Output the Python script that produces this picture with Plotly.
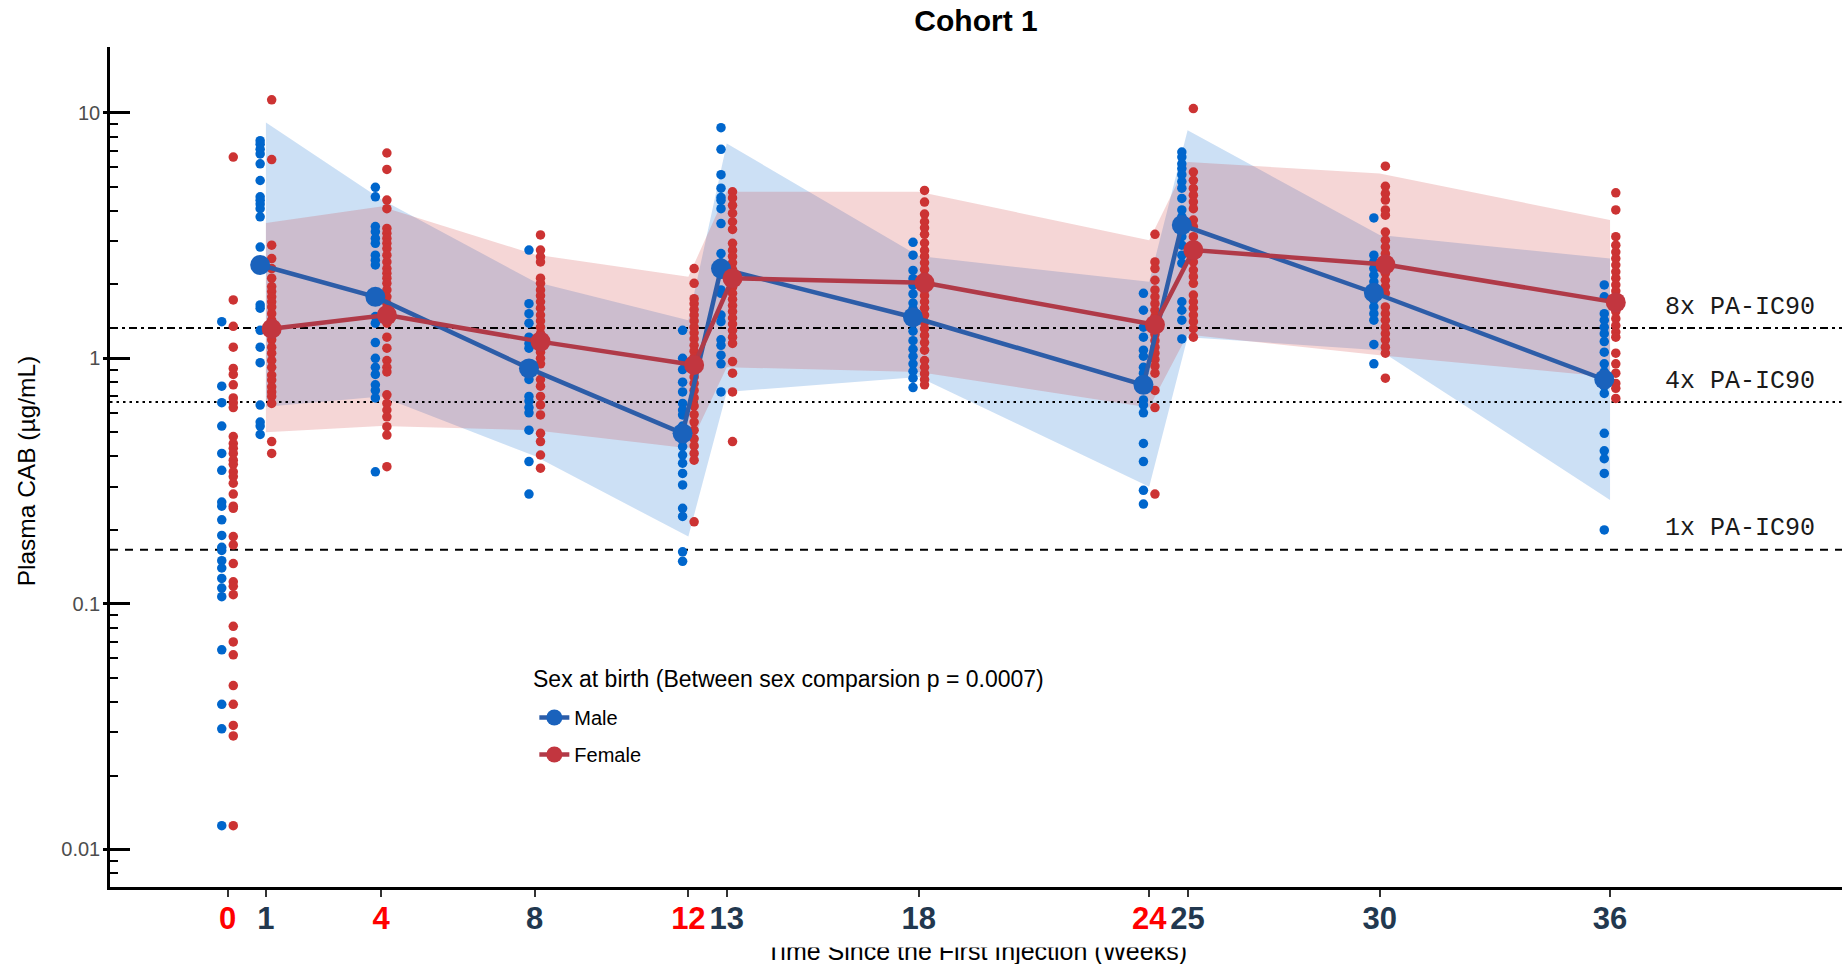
import numpy as np
import plotly.graph_objects as go

# ---------------------------------------------------------------- data
PA_IC90 = 0.166                      # µg/mL
ref_multiples = [8, 4, 1]
ref_labels = ["8x PA-IC90", "4x PA-IC90", "1x PA-IC90"]

tick_weeks = [0, 1, 4, 8, 12, 13, 18, 24, 25, 30, 36]
injection_weeks = [0, 4, 12, 24]

# individual concentrations by visit
male_wk0 = [1.41, 0.77, 0.66, 0.53, 0.41, 0.35, 0.26, 0.25, 0.22, 0.19, 0.17, 0.165, 0.15,
            0.14, 0.127, 0.116, 0.107, 0.065, 0.039, 0.031, 0.0125]
female_wk0 = [6.6, 1.73, 1.35, 1.11, 0.91, 0.86, 0.78, 0.69, 0.66, 0.63, 0.48, 0.45, 0.43,
              0.41, 0.385, 0.37, 0.345, 0.33, 0.31, 0.28, 0.25, 0.245, 0.188, 0.174, 0.146,
              0.123, 0.118, 0.109, 0.081, 0.070, 0.062, 0.0465, 0.039, 0.032, 0.029, 0.0125]
male_wk1 = [7.7, 7.45, 7.1, 6.8, 6.2, 5.3, 4.55, 4.4, 4.25, 4.07, 3.77, 2.84, 2.45, 2.35,
            1.65, 1.6, 1.30, 1.11, 0.96, 0.645, 0.55, 0.53, 0.49]
female_wk1 = [11.3, 6.45, 2.89, 2.55, 2.32, 2.12, 1.96, 1.87, 1.78, 1.70, 1.62, 1.52, 1.43,
              1.34, 1.26, 1.19, 1.11, 1.05, 0.98, 0.92, 0.855, 0.816, 0.766, 0.73, 0.70,
              0.655, 0.458, 0.41]
male_wk4 = [4.97, 4.55, 3.44, 3.28, 3.08, 2.94, 2.63, 2.51, 2.40, 1.82, 1.75, 1.48, 1.39,
            1.16, 1.0, 0.92, 0.86, 0.78, 0.74, 0.69, 0.345]
female_wk4 = [6.86, 5.88, 4.41, 4.07, 3.38, 3.23, 3.08, 2.94, 2.80, 2.63, 2.47, 2.32, 2.22,
              2.12, 2.02, 1.90, 1.78, 1.67, 1.57, 1.48, 1.39, 1.22, 1.10, 0.98, 0.92, 0.88,
              0.71, 0.655, 0.616, 0.578, 0.527, 0.487, 0.362]
male_wk8 = [2.76, 1.67, 1.52, 1.39, 1.22, 1.15, 1.10, 0.95, 0.91, 0.86, 0.82, 0.70, 0.67,
            0.63, 0.60, 0.51, 0.38, 0.28]
female_wk8 = [3.18, 2.76, 2.59, 2.47, 2.12, 2.02, 1.90, 1.80, 1.70, 1.60, 1.50, 1.42, 1.34,
              1.26, 1.19, 1.12, 1.06, 1.0, 0.95, 0.82, 0.77, 0.70, 0.646, 0.588, 0.495,
              0.458, 0.404, 0.357]
male_wk12 = [1.30, 1.0, 0.90, 0.80, 0.73, 0.655, 0.616, 0.588, 0.53, 0.50, 0.465, 0.437,
             0.404, 0.374, 0.34, 0.305, 0.245, 0.227, 0.163, 0.149]
female_wk12 = [2.32, 2.02, 1.75, 1.67, 1.58, 1.50, 1.42, 1.34, 1.27, 1.20, 1.13, 1.07, 1.01,
               0.95, 0.90, 0.84, 0.79, 0.74, 0.69, 0.64, 0.59, 0.55, 0.51, 0.47, 0.44,
               0.41, 0.385, 0.216]
male_wk13 = [8.7, 7.1, 5.6, 4.93, 4.52, 4.4, 4.07, 3.54, 2.67, 2.45, 2.2, 1.90, 1.84, 1.50,
             1.41, 1.19, 1.13, 1.03, 0.95, 0.73]
female_wk13 = [4.77, 4.5, 4.2, 3.9, 3.6, 3.35, 2.94, 2.75, 2.6, 2.45, 2.3, 2.18, 2.06, 1.95,
               1.84, 1.74, 1.64, 1.55, 1.46, 1.38, 1.30, 1.22, 1.15, 0.97, 0.87, 0.73, 0.458]
male_wk18 = [2.97, 2.63, 2.28, 2.11, 1.98, 1.83, 1.68, 1.59, 1.50, 1.45, 1.39, 1.29, 1.18,
             1.09, 1.02, 0.95, 0.886, 0.83, 0.76]
female_wk18 = [4.83, 4.33, 3.87, 3.6, 3.4, 3.2, 2.95, 2.75, 2.6, 2.45, 2.3, 2.15, 2.03, 1.9,
               1.8, 1.7, 1.6, 1.5, 1.4, 1.32, 1.24, 1.16, 1.08, 0.98, 0.92, 0.866, 0.82, 0.78]
male_wk24 = [1.84, 1.57, 1.34, 1.22, 1.08, 1.02, 0.92, 0.87, 0.80, 0.75, 0.677, 0.646, 0.60,
             0.45, 0.38, 0.29, 0.255]
female_wk24 = [3.2, 2.47, 2.32, 2.08, 1.9, 1.78, 1.67, 1.57, 1.48, 1.40, 1.32, 1.25, 1.18,
               1.11, 1.05, 0.99, 0.93, 0.87, 0.74, 0.63, 0.28]
male_wk25 = [6.92, 6.6, 6.2, 5.93, 5.6, 5.25, 4.93, 4.48, 4.02, 3.77, 3.5, 3.13, 2.89, 2.63,
             2.44, 1.70, 1.57, 1.43, 1.2]
female_wk25 = [10.4, 5.74, 5.31, 4.92, 4.62, 4.34, 4.07, 3.66, 3.44, 3.13, 2.84, 2.67, 2.47,
               2.29, 2.15, 2.02, 1.81, 1.70, 1.60, 1.50, 1.41, 1.32, 1.22]
male_wk30 = [3.73, 2.63, 2.47, 2.32, 2.18, 2.05, 1.90, 1.80, 1.73, 1.62, 1.52, 1.43, 1.14, 0.95]
female_wk30 = [6.06, 5.02, 4.69, 4.41, 4.02, 3.83, 3.27, 3.03, 2.84, 2.67, 2.51, 2.36, 2.22,
               2.08, 1.96, 1.84, 1.62, 1.52, 1.43, 1.34, 1.26, 1.19, 1.11, 1.05, 0.83]
male_wk36 = [1.99, 1.78, 1.52, 1.43, 1.34, 1.26, 1.17, 1.06, 0.95, 0.88, 0.82, 0.77, 0.72,
             0.495, 0.42, 0.39, 0.34, 0.20]
female_wk36 = [4.72, 4.02, 3.13, 2.89, 2.71, 2.55, 2.40, 2.25, 2.12, 1.99, 1.88, 1.75, 1.65,
               1.55, 1.45, 1.36, 1.28, 1.22, 1.05, 0.95, 0.87, 0.79, 0.755, 0.687]

# summary by visit (geometric mean and 90% band), from week 1 onward
summary_weeks = [1, 4, 8, 12, 13, 18, 24, 25, 30, 36]
male_mean = [2.40, 1.78, 0.91, 0.495, 2.32, 1.47, 0.78, 3.49, 1.85, 0.82]
female_mean = [1.32, 1.50, 1.17, 0.94, 2.12, 2.03, 1.37, 2.76, 2.41, 1.69]
male_hi = [9.13, 4.45, 2.05, 1.43, 7.5, 2.61, 2.05, 8.5, 3.18, 2.55]
male_lo = [0.635, 0.70, 0.40, 0.188, 0.73, 0.84, 0.30, 1.22, 1.08, 0.265]
female_hi = [3.56, 4.15, 2.65, 2.15, 4.77, 4.77, 3.03, 6.31, 5.66, 3.66]
female_lo = [0.50, 0.53, 0.51, 0.43, 0.92, 0.88, 0.63, 1.25, 1.03, 0.84]

male_obs = [male_wk0, male_wk1, male_wk4, male_wk8, male_wk12, male_wk13,
            male_wk18, male_wk24, male_wk25, male_wk30, male_wk36]
female_obs = [female_wk0, female_wk1, female_wk4, female_wk8, female_wk12, female_wk13,
              female_wk18, female_wk24, female_wk25, female_wk30, female_wk36]

legend_title = "Sex at birth (Between sex comparsion p = 0.0007)"

# ---------------------------------------------------------------- style
BLUE, RED = "#0066CC", "#CC3333"
BLUE_LINE, RED_LINE = "#2D5DA8", "#B03A48"
BLUE_FILL, RED_FILL = "rgba(0,102,204,0.2)", "rgba(204,51,51,0.2)"
NAVY = "#22384F"
DODGE = 0.15
X_RANGE = [-3.06, 42.04]
Y_RANGE = [-2.153, 1.268]
SANS = "Liberation Sans, Arial, sans-serif"

fig = go.Figure()

# ribbons
for lo, hi, fill in [(male_lo, male_hi, BLUE_FILL), (female_lo, female_hi, RED_FILL)]:
    fig.add_trace(go.Scatter(
        x=summary_weeks + summary_weeks[::-1], y=hi + lo[::-1],
        mode="lines", fill="toself", fillcolor=fill, line=dict(width=0),
        hoverinfo="skip", showlegend=False))

# PA-IC90 reference lines
dash_styles = ["8px,4px,3px,4px", "2.5px,4px", "8px,7px"]
for mult, dash in zip(ref_multiples, dash_styles):
    fig.add_trace(go.Scatter(
        x=X_RANGE, y=[mult * PA_IC90] * 2, mode="lines",
        line=dict(color="black", width=2, dash=dash),
        hoverinfo="skip", showlegend=False))

# individual observations, dodged by sex
for obs, shift, color in [(male_obs, -DODGE, BLUE), (female_obs, DODGE, RED)]:
    xs, ys = [], []
    for wk, vals in zip(tick_weeks, obs):
        xs += [wk + shift] * len(vals)
        ys += vals
    fig.add_trace(go.Scatter(
        x=xs, y=ys, mode="markers",
        marker=dict(size=9.5, color=color, line=dict(width=0)),
        showlegend=False))

# means joined over time
for name, mean, shift, lcol, mcol, grp in [
        ("Male", male_mean, -DODGE, BLUE_LINE, "#1A62BC", "m"),
        ("Female", female_mean, DODGE, RED_LINE, "#C2363F", "f")]:
    fig.add_trace(go.Scatter(
        x=[w + shift for w in summary_weeks], y=mean, mode="lines+markers",
        name=name, legendgroup=grp,
        line=dict(color=lcol, width=4.5),
        marker=dict(size=20, color=mcol, line=dict(width=0))))

# stub of the major y ticks outside the axis line
fig.add_trace(go.Scatter(x=[None], y=[None], yaxis="y2", showlegend=False, hoverinfo="skip"))

tick_text = [
    f'<span style="color:{"#FF0000" if w in injection_weeks else NAVY}">{w}</span>'
    for w in tick_weeks]

minor_vals = [m * 10.0 ** e for e in (-3, -2, -1, 0, 1) for m in range(2, 10)]

annotations = []
for mult, label in zip(ref_multiples, ref_labels):
    annotations.append(dict(
        x=39.39, y=np.log10(mult * PA_IC90), xref="x", yref="y", yshift=21,
        text=label, showarrow=False,
        font=dict(family="Liberation Mono, Courier New, monospace", size=25, color="#1a1a1a")))
annotations += [
    dict(text="Plasma CAB (µg/mL)", xref="paper", yref="paper", x=-0.0485, y=0.496,
         xanchor="center", yanchor="middle", textangle=-90, showarrow=False,
         font=dict(family=SANS, size=24.5, color="black")),
    dict(text="Time Since the First Injection (Weeks)", xref="paper", yref="paper",
         x=0.5, y=-0.0762, yanchor="middle", showarrow=False,
         font=dict(family=SANS, size=25, color="black")),
    dict(text=" ", xref="paper", yref="paper", x=0.5, y=-0.0679, yanchor="middle",
         width=620, height=6, bgcolor="white", borderpad=0, showarrow=False,
         font=dict(size=2)),
    dict(text=legend_title, xref="paper", yref="paper", x=0.2431, y=0.2476,
         xanchor="left", yanchor="middle", showarrow=False,
         font=dict(family=SANS, size=23, color="black")),
]

fig.update_layout(
    width=1842, height=964,
    margin=dict(l=110, r=0, t=47, b=77),
    paper_bgcolor="white", plot_bgcolor="white",
    title=dict(text="<b>Cohort 1</b>", x=0.5, xref="paper", xanchor="center",
               y=1 - 20 / 964, yref="container", yanchor="middle",
               font=dict(family=SANS, size=30, color="black")),
    xaxis=dict(range=X_RANGE, tickvals=tick_weeks, ticktext=tick_text, tickangle=0,
               tickfont=dict(family=SANS, size=31, weight="bold"),
               ticks="outside", ticklen=7, tickwidth=1.5, tickcolor="#333333",
               ticklabelstandoff=-5,
               showline=True, linecolor="black", linewidth=2.5,
               showgrid=False, zeroline=False),
    yaxis=dict(type="log", range=Y_RANGE,
               tickvals=[0.01, 0.1, 1, 10], ticktext=["0.01", "0.1", "1", "10"],
               tickfont=dict(family=SANS, size=20, color="#4d4d4d"),
               ticks="inside", ticklen=20, tickwidth=2.5, tickcolor="black",
               ticklabelstandoff=3,
               minor=dict(tickvals=minor_vals, ticks="inside", ticklen=8,
                          tickwidth=2, tickcolor="black"),
               showline=True, linecolor="black", linewidth=2.5,
               showgrid=False, zeroline=False),
    yaxis2=dict(type="log", range=Y_RANGE, overlaying="y", side="left",
                tickvals=[0.01, 0.1, 1, 10], showticklabels=False,
                ticks="outside", ticklen=6, tickwidth=2.5, tickcolor="black",
                showline=False, showgrid=False, zeroline=False),
    legend=dict(x=0.245, y=0.225, xanchor="left", yanchor="top",
                font=dict(family=SANS, size=20, color="black"),
                bgcolor="rgba(0,0,0,0)", tracegroupgap=8, traceorder="grouped"),
    annotations=annotations,
    showlegend=True,
)

fig.write_html("out.html")
